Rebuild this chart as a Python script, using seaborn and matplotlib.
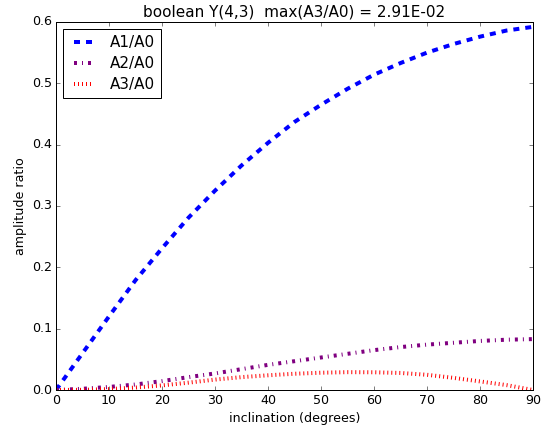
import matplotlib
matplotlib.use("Agg")
import matplotlib.pyplot as plt
import numpy as np
import pandas as pd
import seaborn as sns

# inclination grid (degrees)
inclination = [0, 5, 10, 15, 20, 25, 30, 35, 40, 45, 50, 55, 60, 65, 70, 75, 80, 85, 90]

# amplitude ratios of the harmonics relative to A0
a1_a0 = [0.000, 0.060, 0.120, 0.179, 0.231, 0.281, 0.325, 0.366, 0.403, 0.437, 0.465,
         0.491, 0.514, 0.533, 0.550, 0.564, 0.576, 0.586, 0.592]
a2_a0 = [0.000, 0.002, 0.005, 0.009, 0.0145, 0.021, 0.027, 0.034, 0.041, 0.047, 0.053,
         0.059, 0.065, 0.070, 0.074, 0.077, 0.080, 0.082, 0.083]
a3_a0 = [0.000, 0.0003, 0.0015, 0.0040, 0.0075, 0.0120, 0.0170, 0.0210, 0.0240, 0.0265,
         0.0282, 0.0291, 0.0289, 0.0278, 0.0248, 0.0198, 0.0140, 0.0080, 0.000]

series_labels = ["A1/A0", "A2/A0", "A3/A0"]
series_colors = ["blue", "purple", "red"]
series_styles = ["--", "-.", ":"]

df = pd.DataFrame({
    "inclination": inclination,
    "A1/A0": a1_a0,
    "A2/A0": a2_a0,
    "A3/A0": a3_a0,
})

plt.style.use("classic")
plt.rcParams.update({
    "figure.facecolor": "white",
    "savefig.facecolor": "white",
    "font.family": ["DejaVu Sans"],
    "font.size": 12.6,
    "xtick.labelsize": 12.6,
    "ytick.labelsize": 12.6,
    "axes.labelsize": 12.6,
    "lines.scale_dashes": False,
    "lines.dashed_pattern": [6, 6],
    "lines.dashdot_pattern": [3, 5, 1, 5],
    "lines.dotted_pattern": [1, 3],
})

fig = plt.figure(figsize=(549 / 72, 430 / 72), dpi=72)
ax = fig.add_axes([0.102, 0.093, 0.869, 0.856])

for label, color, style in zip(series_labels, series_colors, series_styles):
    sns.lineplot(data=df, x="inclination", y=label, ax=ax, color=color,
                 linestyle=style, linewidth=4, label=label)

ax.set_xlim(0, 90)
ax.set_ylim(0, 0.6)
ax.set_xticks(np.arange(0, 91, 10))
ax.set_yticks(np.arange(0, 0.61, 0.1))
ax.set_xlabel("inclination (degrees)")
ax.set_ylabel("amplitude ratio")
ax.set_title("boolean Y(4,3)  max(A3/A0) = %.2E" % max(a3_a0), fontsize=15.2)

ax.legend(loc="upper left", fontsize=15.1, handlelength=1.9, labelspacing=0.4,
          borderaxespad=0.48, fancybox=False, framealpha=1, edgecolor="black")

fig.savefig("out.png", dpi=72)
